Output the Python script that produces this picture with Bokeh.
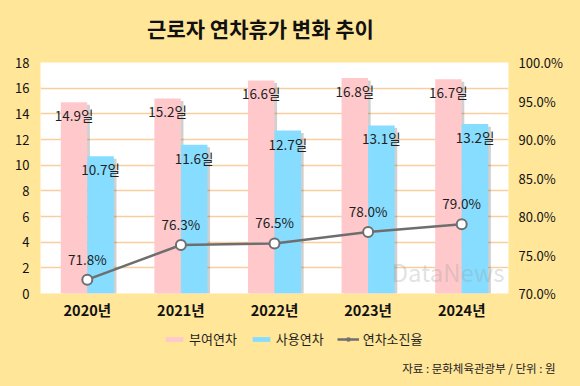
from bokeh.plotting import figure
from bokeh.layouts import column
from bokeh.models import (ColumnDataSource, FactorRange, Range1d, LinearAxis, FixedTicker,
                          NumeralTickFormatter, Legend, LegendItem, Label, Title)
from bokeh.transform import dodge
from bokeh.core.properties import value
from bokeh.embed import file_html
from bokeh.resources import INLINE

# ---- data ----
years = ["2020년", "2021년", "2022년", "2023년", "2024년"]
granted = [14.9, 15.2, 16.6, 16.8, 16.7]     # 부여연차 (일)
used = [10.7, 11.6, 12.7, 13.1, 13.2]        # 사용연차 (일)
rate = [0.718, 0.763, 0.765, 0.780, 0.790]   # 연차소진율
left_ticks = [0, 2, 4, 6, 8, 10, 12, 14, 16, 18]
right_ticks = [0.70, 0.75, 0.80, 0.85, 0.90, 0.95, 1.00]
series_names = ["부여연차", "사용연차", "연차소진율"]
title_text = "근로자 연차휴가 변화 추이"
source_text = "자료 : 문화체육관광부 / 단위 : 원"

BG = "#FFE699"
PINK = "#FFC9CC"
BLUE = "#86DDFF"
LINE = "#6E6E6E"
FONT = "Noto Sans CJK KR"

# frame of every strip is aligned by the column layout to x = 40..508
FX0, FX1 = 40, 508


def blank(h, **kw):
    f = figure(width=580, height=h, x_range=Range1d(FX0, FX1), y_range=Range1d(0, 1),
               output_backend="svg", toolbar_location=None, x_axis_type=None, y_axis_type=None,
               min_border=0, **kw)
    f.background_fill_color = BG
    f.border_fill_color = BG
    f.outline_line_color = None
    f.grid.visible = False
    return f


# ---------- title strip ----------
TOP_H = 52
ft = blank(TOP_H)
ft.y_range = Range1d(0, TOP_H)
ft.add_layout(Label(x=260, y=TOP_H - 27, text=title_text, text_align="center",
                    text_baseline="middle", text_font=FONT, text_font_style="bold",
                    text_font_size="21px", text_color="#111111"))

# ---------- main chart ----------
src = ColumnDataSource(dict(
    year=years,
    granted=granted,
    used=used,
    rate=rate,
    granted_lbl=[f"{v:.1f}일" for v in granted],
    used_lbl=[f"{v:.1f}일" for v in used],
    rate_lbl=[f"{v*100:.1f}%" for v in rate],
    granted_sh=[v - 0.2 for v in granted],
    used_sh=[v - 0.2 for v in used],
))

MAIN_H = 10 + 231 + 36
p = figure(width=580, height=MAIN_H, x_range=FactorRange(factors=years, range_padding=0),
           y_range=Range1d(0, 18), output_backend="svg", toolbar_location=None,
           min_border_left=40, min_border_right=72, min_border_top=10, min_border_bottom=36)
p.background_fill_color = "white"
p.border_fill_color = BG
p.outline_line_color = None
p.extra_y_ranges = {"pct": Range1d(0.70, 1.00)}

W = 0.283
OFF = 0.142
SH = 0.028
p.vbar(x=dodge("year", -OFF + SH, range=p.x_range), top="granted_sh", width=W, source=src,
       fill_color="#444444", fill_alpha=0.25, line_color=None)
p.vbar(x=dodge("year", -OFF, range=p.x_range), top="granted", width=W, source=src,
       fill_color=PINK, line_color=None)
p.vbar(x=dodge("year", OFF + SH, range=p.x_range), top="used_sh", width=W, source=src,
       fill_color="#444444", fill_alpha=0.25, line_color=None)
p.vbar(x=dodge("year", OFF, range=p.x_range), top="used", width=W, source=src,
       fill_color=BLUE, line_color=None)

# watermark
p.add_layout(Label(x=464, y=22, x_units="screen", y_units="screen",
                   text="DataNews", text_align="right", text_baseline="middle",
                   text_font=FONT, text_font_size="24px", text_color="#9A9A9A", text_alpha=0.3))

p.text(x=dodge("year", -OFF, range=p.x_range), y="granted", text="granted_lbl", source=src,
       text_align="center", text_baseline="middle", y_offset=13,
       text_font=value(FONT), text_font_size="13.5px", text_color="#1E1E1E")
p.text(x=dodge("year", OFF, range=p.x_range), y="used", text="used_lbl", source=src,
       text_align="center", text_baseline="middle", y_offset=13,
       text_font=value(FONT), text_font_size="13.5px", text_color="#1E1E1E")

p.line(x="year", y="rate", source=src, y_range_name="pct", line_color=LINE, line_width=2.5)
p.scatter(x="year", y="rate", source=src, y_range_name="pct", size=10,
          fill_color="white", line_color=LINE, line_width=2)
p.text(x="year", y="rate", text="rate_lbl", source=src, y_range_name="pct",
       text_align="center", text_baseline="middle", y_offset=-21,
       text_font=value(FONT), text_font_size="13.5px", text_color="#1E1E1E")

p.yaxis.ticker = FixedTicker(ticks=left_ticks)
for ax in [p.yaxis[0], p.xaxis[0]]:
    ax.axis_line_color = None
    ax.major_tick_line_color = None
    ax.minor_tick_line_color = None
    ax.major_tick_out = 0
    ax.major_tick_in = 0
    ax.major_label_text_font = FONT
    ax.major_label_text_color = "#111111"
p.yaxis.major_label_text_font_size = "13px"
p.yaxis.major_label_standoff = 11
p.xaxis.major_label_text_font_size = "14.5px"
p.xaxis.major_label_text_font_style = "bold"
p.xaxis.major_label_standoff = 5

ry = LinearAxis(y_range_name="pct", ticker=FixedTicker(ticks=right_ticks),
                formatter=NumeralTickFormatter(format="0.0%"))
ry.axis_line_color = None
ry.major_tick_line_color = None
ry.minor_tick_line_color = None
ry.major_tick_out = 0
ry.major_tick_in = 0
ry.major_label_text_font = FONT
ry.major_label_text_font_size = "13px"
ry.major_label_text_color = "#111111"
ry.major_label_standoff = 10
p.add_layout(ry, "right")

p.xgrid.grid_line_color = None
p.ygrid.grid_line_color = "#F8CDA0"
p.ygrid.grid_line_width = 1.5

# ---------- legend + source strip ----------
BOT_H = 386 - TOP_H - MAIN_H
fb = blank(BOT_H, min_border_bottom=30)
# legend proxies: one point each, far outside the visible range
proxy = ColumnDataSource(dict(x=[-1000], y=[-1000], top=[-1000]))
lg1 = fb.vbar(x="x", top="top", width=1, source=proxy, fill_color=PINK, line_color=None)
lg2 = fb.vbar(x="x", top="top", width=1, source=proxy, fill_color=BLUE, line_color=None)
lg3 = fb.line(x="x", y="y", source=proxy, line_color=LINE, line_width=2.5)
lg4 = fb.scatter(x="x", y="y", source=proxy, size=10, fill_color="white",
                 line_color=LINE, line_width=2)
legend = Legend(items=[LegendItem(label=series_names[0], renderers=[lg1]),
                       LegendItem(label=series_names[1], renderers=[lg2]),
                       LegendItem(label=series_names[2], renderers=[lg3, lg4])],
                orientation="horizontal", location=(163 - FX0, 8))
legend.background_fill_alpha = 0
legend.border_line_color = None
legend.padding = 0
legend.margin = 0
legend.spacing = 13
legend.glyph_width = 22
legend.glyph_height = 6
legend.label_standoff = 4
legend.label_text_font = FONT
legend.label_text_font_size = "13px"
legend.label_text_color = "#1E1E1E"
legend.label_height = 14
fb.add_layout(legend, "center")
fb.add_layout(Title(text=source_text, align="right", offset=-(555 - FX1), standoff=3,
                    text_font=FONT, text_font_size="11.5px", text_font_style="normal",
                    text_color="#222222"), "below")

layout = column(ft, p, fb, spacing=0)
html = file_html(layout, INLINE)
html = html.replace("</head>", "<style>html,body{margin:0;padding:0;background:#FFE699;overflow:hidden}</style></head>", 1)
open("out.html", "w").write(html)
